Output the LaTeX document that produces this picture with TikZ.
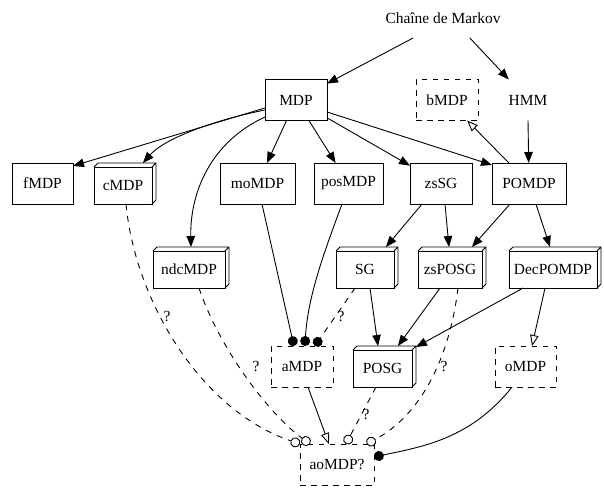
\documentclass[tikz,border=0pt]{standalone}
\usepackage{fontspec}
\setmainfont{Liberation Serif}
\usetikzlibrary{arrows.meta}
\newcommand\boxthreed[1]{\draw (#1.north west) -- ++(4,-4) -| ([shift={(4,-4)}]#1.south east) -- (#1.south east) (#1.north east) -- ++(4,-4);}
\begin{document}
\begin{tikzpicture}[x=1bp,y=-1bp,line width=0.9pt,
  font=\fontsize{15.5}{18}\selectfont,
  every node/.style={inner sep=0pt, outer sep=0pt},
  plainbox/.style={draw, minimum width=62bp, minimum height=41bp},
  dashbox/.style={draw, dash pattern=on 5.5bp off 5.5bp, minimum width=62bp, minimum height=41bp},
  frontbox/.style={draw, fill=white, minimum width=58bp, minimum height=37bp},
  plaintext/.style={minimum width=62bp, minimum height=41bp},
  arr/.style={-{Triangle[length=11bp,width=8.5bp]}},
  openarr/.style={-{Triangle[open,length=11bp,width=8.5bp]}},
  dotend/.style={-{Circle[length=10bp]}},
  odotend/.style={-{Circle[open,length=10bp]}},
  dashedge/.style={dash pattern=on 6bp off 6bp},
  qlabel/.style={font=\fontsize{15.5}{18}\selectfont}]
\useasboundingbox (0,0) rectangle (604,495);

% nodes
\node[minimum height=40bp] (chaine) at (443,18) {Chaîne de Markov};
\node[plainbox] (mdp) at (296,100) {MDP};
\node[dashbox] (bmdp) at (447,100) {bMDP};
\node[plaintext] (hmm) at (528,100) {HMM};

\node[plainbox, minimum width=61bp] (fmdp) at (42.5,183.5) {fMDP};
\node[frontbox] (cmdp) at (123,185.5) {cMDP};
\boxthreed{cmdp}
\node[plainbox, minimum width=75bp] (momdp) at (257.5,183.5) {moMDP};
\node[plainbox, minimum width=69bp] (posmdp) at (348.5,183.5) {posMDP};
\node[plainbox] (zssg) at (441,183.5) {zsSG};
\node[plainbox, minimum width=74bp] (pomdp) at (529,183.5) {POMDP};

\node[frontbox, minimum width=72bp] (ndcmdp) at (189,269.5) {ndcMDP};
\boxthreed{ndcmdp}
\node[frontbox] (sg) at (365,269.5) {SG};
\boxthreed{sg}
\node[frontbox, minimum width=64bp] (zsposg) at (450,269.5) {zsPOSG};
\boxthreed{zsposg}
\node[frontbox, minimum width=88bp] (decpomdp) at (553,269.5) {DecPOMDP};
\boxthreed{decpomdp}

\node[dashbox] (amdp) at (302,366.5) {aMDP};
\node[frontbox, minimum width=59bp] (posg) at (382.5,368.5) {POSG};
\boxthreed{posg}
\node[dashbox, minimum width=61bp] (omdp) at (525.5,366.5) {oMDP};
\node[dashbox, minimum width=74bp] (ao) at (337,464.5) {aoMDP?};

% question-mark labels
\node[qlabel] (q1) at (167,316) {?};
\node[qlabel] (q2) at (256,366) {?};
\node[qlabel] (q3) at (341,316) {?};
\node[qlabel] (q4) at (366,414) {?};
\node[qlabel] (q5) at (444,366) {?};

% edges
\draw[arr] ([xshift=-30]chaine.south) -- (mdp);
\draw[arr] ([xshift=27]chaine.south) -- (hmm);
\draw[arr] (hmm.south) -- (pomdp);
\draw[openarr] (pomdp) -- (bmdp);

\draw[arr] ([yshift=-8]mdp.west) -- ([yshift=-3]fmdp.north east);
\draw[arr] ([yshift=-10]mdp.west) .. controls (215,120) and (165,138) .. ([xshift=20,yshift=4]cmdp.north);
\draw[arr] ([yshift=-17]mdp.west) .. controls (205,145) and (190,200) .. ([xshift=2,yshift=4]ndcmdp.north);
\draw[arr] (mdp) -- (momdp);
\draw[arr] (mdp) -- (posmdp);
\draw[arr] (mdp) -- (zssg);
\draw[arr] ([yshift=-12]mdp.east) -- ([yshift=-2]pomdp.north west);

\draw[arr] ([xshift=-19]zssg.south) -- ([xshift=21,yshift=4]sg.north);
\draw[arr] ([xshift=4]zssg.south) -- ([xshift=-1,yshift=4]zsposg.north);
\draw[arr] ([xshift=-19]pomdp.south) -- ([xshift=22,yshift=4]zsposg.north);
\draw[arr] ([xshift=7]pomdp.south) -- ([xshift=-3,yshift=4]decpomdp.north);

\draw[arr] ([xshift=5]sg.south) -- ([xshift=-4.5,yshift=4]posg.north);
\draw[arr] ([xshift=-10]zsposg.south) -- ([xshift=15.5,yshift=4]posg.north);
\draw[arr] ([xshift=-30]decpomdp.south) -- ([xshift=4,yshift=3]posg.north east);
\draw[openarr] ([xshift=-8]decpomdp.south) -- ([xshift=6.5]omdp.north);

\draw[dotend] ([xshift=4.5]momdp.south) -- ([xshift=23]amdp.north west);
\draw[dotend] ([xshift=-6.5]posmdp.south) .. controls (325,250) and (308,295) .. ([xshift=34]amdp.north west);
\draw[dotend, dashedge] ([xshift=-10]sg.south) -- ([xshift=44]amdp.north west);

\draw[openarr] ([xshift=6]amdp.south) -- ([xshift=29]ao.north west);
\draw[odotend, dashedge] ([xshift=-6.5]posg.south) -- ([xshift=46]ao.north west);
\draw[odotend, dashedge] ([xshift=8]zsposg.south) .. controls (452,340) and (430,410) .. ([xshift=67]ao.north west);
\draw[odotend, dashedge] ([xshift=3]cmdp.south) .. controls (135,300) and (200,410) .. (ao.north west);
\draw[odotend, dashedge] ([xshift=10]ndcmdp.south) .. controls (220,350) and (270,415) .. ([xshift=10]ao.north west);
\draw[dotend] ([xshift=-13.5]omdp.south) .. controls (470,440) and (420,447) .. ([yshift=7.5]ao.east);
\end{tikzpicture}
\end{document}
